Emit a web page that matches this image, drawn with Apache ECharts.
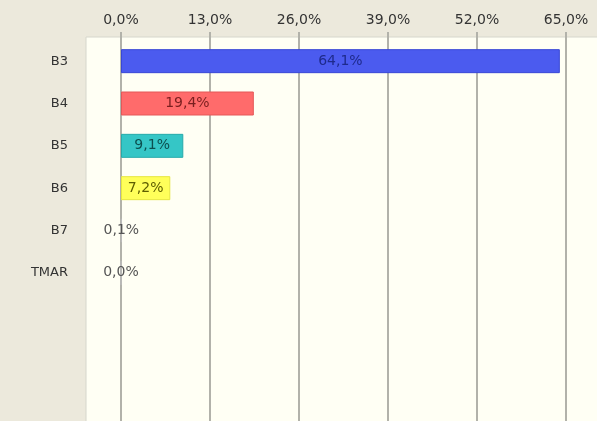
<!DOCTYPE html>
<html>
<head>
<meta charset="utf-8">
<script src="https://cdn.jsdelivr.net/npm/echarts@6/dist/echarts.min.js"></script>
<style>
  html, body { margin: 0; padding: 0; background: #ece9dc; }
  #chart { width: 597px; height: 421px; }
</style>
</head>
<body>
<div id="chart"></div>
<script>
// data
const categories = ['B3', 'B4', 'B5', 'B6', 'B7', 'TMAR']
const shares = [64.1, 19.4, 9.1, 7.2, 0.1, 0.0]
const xTicks = [0, 13, 26, 39, 52, 65]

// colours
const barColors = ['#4b5bef', '#ff6b6b', '#35c6c6', '#ffff5a', '#bbbbbb', '#bbbbbb']
const borderColors = ['#3847d6', '#e45858', '#26aaaa', '#e6e640', '#bbbbbb', '#bbbbbb']
const labelColors = ['#1e2a8c', '#7a1f1f', '#0d4f4f', '#5e5e00', '#555555', '#555555']

const fmt = v => v.toFixed(1).replace('.', ',') + '%'

const chart = echarts.init(document.getElementById('chart'))

chart.setOption({
  backgroundColor: '#ece9dc',
  animation: false,
  textStyle: { fontFamily: 'DejaVu Sans' },
  graphic: [{
    type: 'rect',
    z: -10,
    shape: { x: 86, y: 37, width: 520, height: 400 },
    style: { fill: '#fffff4', stroke: '#d6d6cc', lineWidth: 1 }
  }],
  grid: {
    left: 121,
    right: 31,
    top: 40,
    bottom: 0
  },
  xAxis: {
    type: 'value',
    position: 'top',
    min: xTicks[0],
    max: xTicks[xTicks.length - 1],
    interval: 13,
    axisLine: { show: false },
    axisTick: {
      show: true,
      length: 8,
      lineStyle: { color: '#b2b2aa', width: 2 }
    },
    splitLine: {
      show: true,
      lineStyle: { color: '#b2b2aa', width: 2 }
    },
    axisLabel: {
      margin: 13,
      color: '#333333',
      fontSize: 14,
      formatter: fmt
    }
  },
  yAxis: {
    type: 'category',
    data: categories,
    inverse: true,
    max: 8,
    axisLine: { show: false },
    axisTick: { show: false },
    splitLine: { show: false },
    axisLabel: {
      margin: 53,
      color: '#333333',
      fontSize: 13
    }
  },
  series: [{
    type: 'bar',
    barWidth: 24,
    data: shares.map((v, i) => ({
      value: v,
      itemStyle: { color: barColors[i], borderColor: borderColors[i], borderWidth: 1 },
      label: { color: labelColors[i] }
    })),
    label: {
      show: true,
      position: 'inside',
      fontSize: 14,
      formatter: p => fmt(p.value)
    }
  }]
})
</script>
</body>
</html>
